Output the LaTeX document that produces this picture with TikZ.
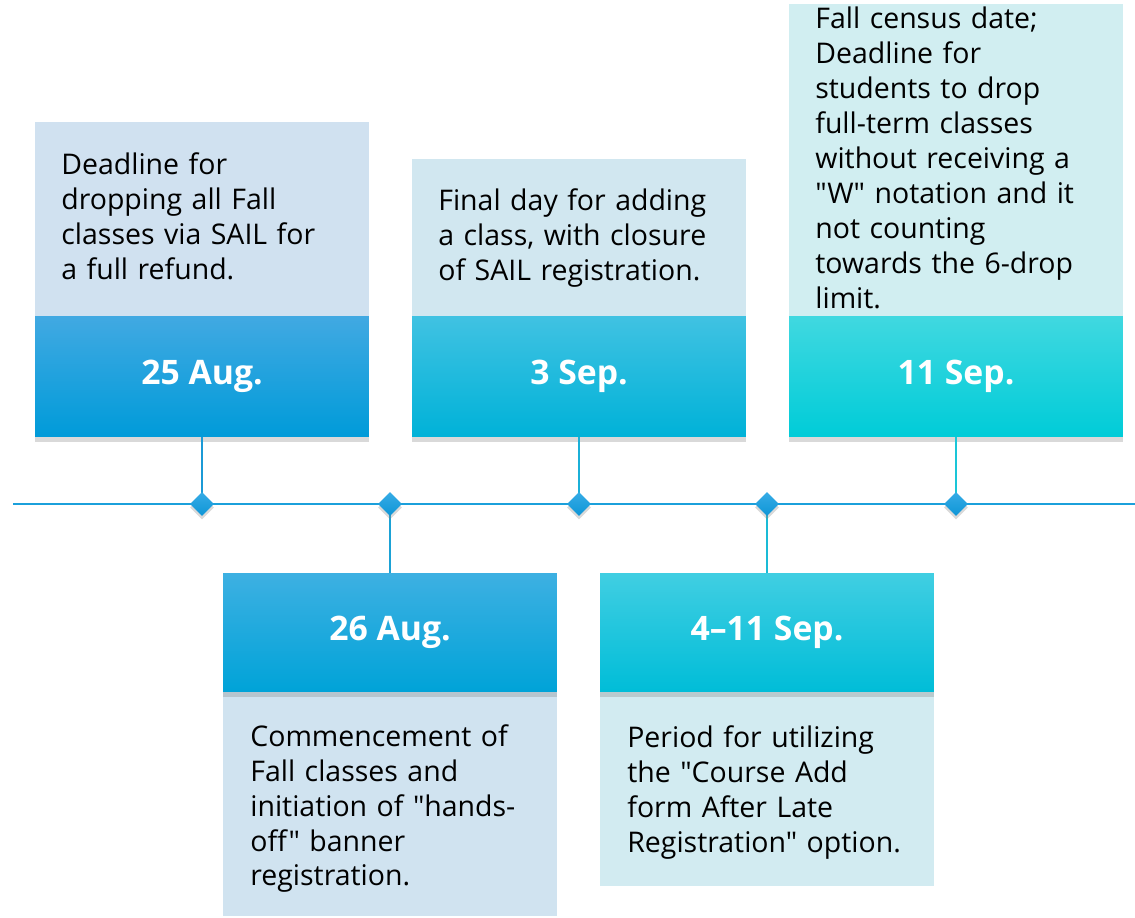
\documentclass[tikz,border=0pt]{standalone}
\usepackage{fontspec}
\setmainfont{Open Sans}
% no TeX mapping here, so " stays a straight quote
\newfontfamily\notefont{Open Sans}
\usetikzlibrary{positioning,shadows,shapes.geometric}

\definecolor{augtop}{HTML}{41A9E2}
\definecolor{augbot}{HTML}{009BD9}
\definecolor{augnote}{HTML}{D0E1F0}
\definecolor{augline}{HTML}{1B9AD6}
\definecolor{lateaugtop}{HTML}{3DB0E2}
\definecolor{lateaugbot}{HTML}{00A3D8}
\definecolor{lateaugnote}{HTML}{D0E3F0}
\definecolor{lateaugline}{HTML}{1BA2D6}
\definecolor{septop}{HTML}{40C2E2}
\definecolor{sepbot}{HTML}{00B2D8}
\definecolor{sepnote}{HTML}{D1E7F0}
\definecolor{sepline}{HTML}{1BB0D8}
\definecolor{spantop}{HTML}{40CEE2}
\definecolor{spanbot}{HTML}{00BDD8}
\definecolor{spannote}{HTML}{D2EBF1}
\definecolor{spanline}{HTML}{1ABBD6}
\definecolor{censustop}{HTML}{40D8E0}
\definecolor{censusbot}{HTML}{00CCD8}
\definecolor{censusnote}{HTML}{D1EEF1}
\definecolor{censusline}{HTML}{1AC6D8}
\definecolor{axis}{HTML}{1BA0DB}
\definecolor{gemtop}{HTML}{36ACE6}
\definecolor{gembot}{HTML}{0E95D6}

\begin{document}
\begin{tikzpicture}[
    x=0.02cm,
    y=-0.02cm,
    line join=round,
    datebox/.style={
      minimum width=6.68cm, minimum height=2.4cm, inner sep=0pt,
      text=white, font=\fontsize{19.2}{23}\selectfont\bfseries,
      drop shadow={shadow xshift=0pt, shadow yshift=-3pt, opacity=.3}
    },
    notebox/.style={minimum width=6.68cm, inner sep=0pt},
    notetext/.style={
      anchor=base west, inner sep=0pt, text width=6.3cm, align=left,
      font=\notefont\fontsize{16.2}{19.92}\selectfont
    },
    stem/.style={line width=1.3pt},
    gem/.style={
      diamond, minimum size=0.48cm, inner sep=0pt,
      top color=gemtop, bottom color=gembot,
      drop shadow={shadow xshift=0pt, shadow yshift=-2pt, opacity=.3}
    }
  ]
  \useasboundingbox (0,0) rectangle (1135,918);

  % note panels
  \node[notebox, fill=augnote, minimum height=3.88cm, anchor=south] (n25aug) at (202,316) {};
  \node[notebox, fill=sepnote, minimum height=3.14cm, anchor=south] (n3sep) at (579,316) {};
  \node[notebox, fill=censusnote, minimum height=6.24cm, anchor=south] (n11sep) at (956,316) {};
  \node[notebox, fill=lateaugnote, minimum height=4.48cm, anchor=north] (n26aug) at (390,692) {};
  \node[notebox, fill=spannote, minimum height=3.88cm, anchor=north] (n4sep) at (767,692) {};

  % date headers
  \node[datebox, top color=augtop, bottom color=augbot, below=0pt of n25aug] (d25aug) {25 Aug.};
  \node[datebox, top color=septop, bottom color=sepbot, below=0pt of n3sep] (d3sep) {3 Sep.};
  \node[datebox, top color=censustop, bottom color=censusbot, below=0pt of n11sep] (d11sep) {11 Sep.};
  \node[datebox, minimum height=2.36cm, top color=lateaugtop, bottom color=lateaugbot,
    above=0pt of n26aug] (d26aug) {26 Aug.};
  \node[datebox, minimum height=2.36cm, top color=spantop, bottom color=spanbot,
    above=0pt of n4sep] (d4sep) {4--11 Sep.};

  % time axis, stems and markers
  \coordinate (axisL) at (13,504);
  \coordinate (axisR) at (1135,504);
  \draw[axis, line width=1.3pt] (axisL) -- (axisR);

  \draw[stem, augline] (d25aug.south) -- (202,504);
  \draw[stem, lateaugline] (d26aug.north) -- (390,504);
  \draw[stem, sepline] (d3sep.south) -- (579,504);
  \draw[stem, spanline] (d4sep.north) -- (767,504);
  \draw[stem, censusline] (d11sep.south) -- (956,504);

  \foreach \d/\x in {d25aug/202,d26aug/390,d3sep/579,d4sep/767,d11sep/956}
    \node[gem] (k\d) at (\x,504) {};

  % note texts
  \node[notetext] (t25aug) at (61,175)
    {Deadline for\\dropping all Fall\\classes via SAIL for\\a full refund.};
  \node[notetext] (t3sep) at (438,211)
    {Final day for adding\\a class, with closure\\of SAIL registration.};
  \node[notetext] (t11sep) at (815,29)
    {Fall census date;\\Deadline for\\students to drop\\full-term classes\\without receiving a\\"W" notation and it\\not counting\\towards the 6-drop\\limit.};
  \node[notetext] (t26aug) at (250,746)
    {Commencement of\\Fall classes and\\initiation of "hands-\\off" banner\\registration.};
  \node[notetext] (t4sep) at (627,747)
    {Period for utilizing\\the "Course Add\\form After Late\\Registration" option.};
\end{tikzpicture}
\end{document}
